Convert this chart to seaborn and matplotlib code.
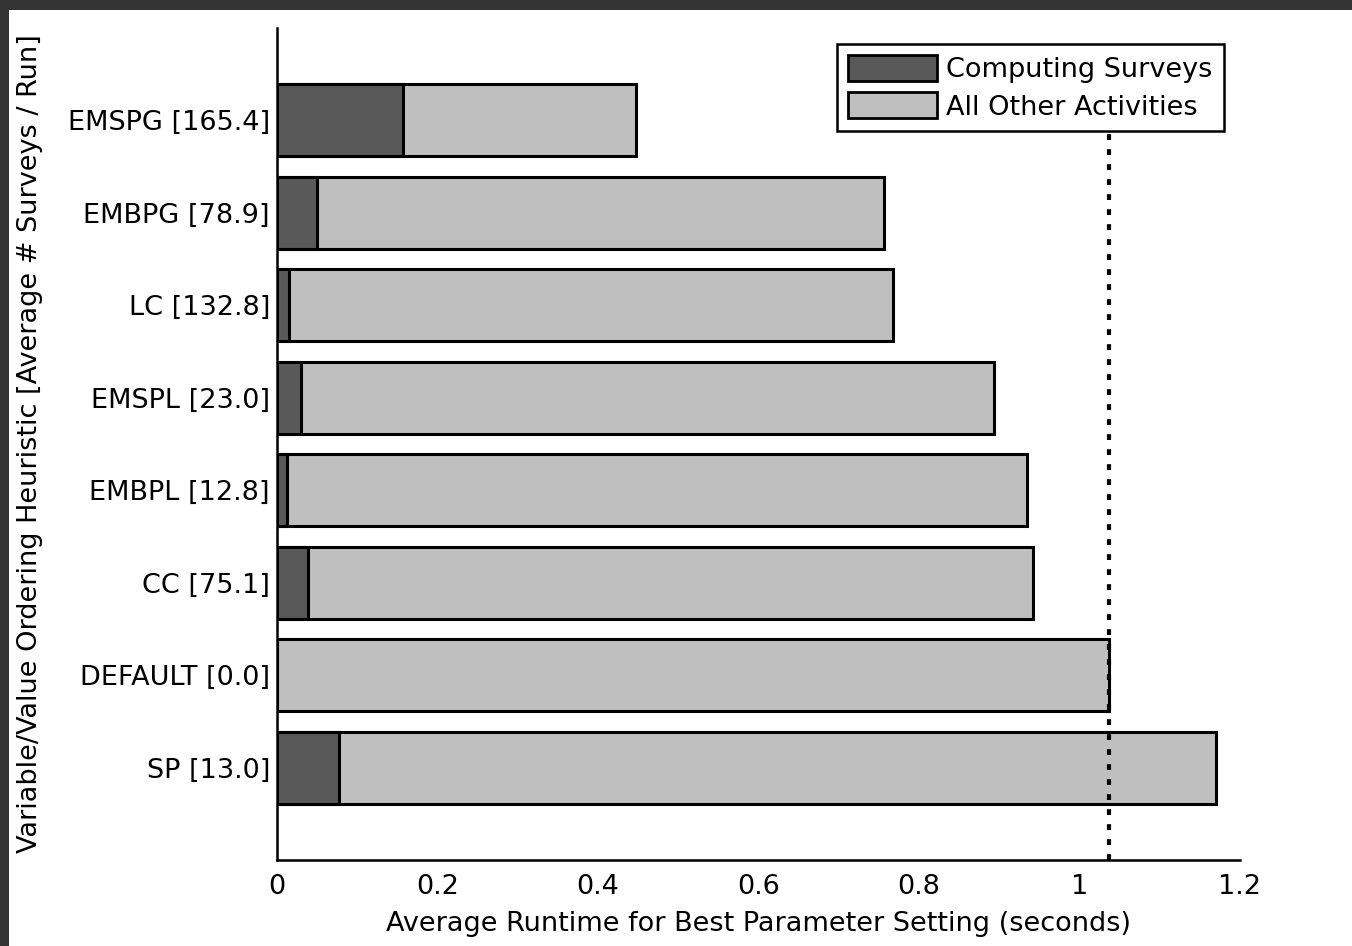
import matplotlib
matplotlib.use("Agg")
import matplotlib.pyplot as plt
import seaborn as sns
import pandas as pd
from matplotlib.patches import Patch, Rectangle

# heuristics, top to bottom
labels = ["EMSPG [165.4]", "EMBPG [78.9]", "LC [132.8]", "EMSPL [23.0]",
          "EMBPL [12.8]", "CC [75.1]", "DEFAULT [0.0]", "SP [13.0]"]
survey_time = [0.157, 0.050, 0.015, 0.030, 0.012, 0.039, 0.0, 0.077]
total_time = [0.447, 0.756, 0.768, 0.893, 0.935, 0.942, 1.037, 1.170]
default_total = 1.037

xticks = [0, 0.2, 0.4, 0.6, 0.8, 1.0, 1.2]
xtick_labels = ["0", "0.2", "0.4", "0.6", "0.8", "1", "1.2"]

dark = "#595959"
light = "#bfbfbf"

df = pd.DataFrame({"heuristic": labels, "survey": survey_time, "total": total_time})

sns.set_style("white")
plt.rcParams["font.family"] = ["DejaVu Sans"]
plt.rcParams["text.color"] = "black"
fs = 19.5

fig = plt.figure(figsize=(13.52, 9.46), dpi=100, facecolor="#333333")
# white page inside the dark frame
fig.patches.append(Rectangle((9 / 1352, 0), 1, 1 - 10 / 946, transform=fig.transFigure,
                             facecolor="white", edgecolor="none", zorder=-5))
ax = fig.add_axes([277 / 1352, 86 / 946, (1240 - 277) / 1352, (860 - 28) / 946])
ax.set_facecolor("none")

# -----------------------------
# stacked horizontal bars
# -----------------------------
sns.barplot(data=df, x="total", y="heuristic", color=light, edgecolor="black",
            linewidth=2.2, width=0.78, saturation=1, ax=ax)
sns.barplot(data=df, x="survey", y="heuristic", color=dark, edgecolor="black",
            linewidth=2.2, width=0.78, saturation=1, ax=ax)

ax.axvline(default_total, color="black", linewidth=3, linestyle=(0, (1.4, 2.2)),
           ymin=0, ymax=0.988, zorder=5)

ax.set_xlim(0, 1.2)
ax.set_ylim(8, -1)
ax.set_xticks(xticks)
ax.set_xticklabels(xtick_labels)
ax.tick_params(axis="x", direction="in", length=9, width=1.5, pad=10,
               labelsize=fs, colors="black")
ax.tick_params(axis="y", length=0, pad=5, labelsize=fs, colors="black")

for side in ["top", "right"]:
    ax.spines[side].set_visible(False)
for side in ["left", "bottom"]:
    ax.spines[side].set_linewidth(1.8)
    ax.spines[side].set_color("black")

ax.set_xlabel("Average Runtime for Best Parameter Setting (seconds)", fontsize=fs,
              labelpad=8, color="black")
ax.set_ylabel("Variable/Value Ordering Heuristic [Average # Surveys / Run]",
              fontsize=fs, color="black")
ax.yaxis.set_label_coords(-0.243, 0.5)

handles = [Patch(facecolor=dark, edgecolor="black", linewidth=2, label="Computing Surveys"),
           Patch(facecolor=light, edgecolor="black", linewidth=2, label="All Other Activities")]
leg = ax.legend(handles=handles, loc="upper right", bbox_to_anchor=(0.983, 0.981),
                fontsize=fs, frameon=True, fancybox=False, framealpha=1,
                edgecolor="black", handlelength=3.3, handleheight=1.1,
                handletextpad=0.35, borderpad=0.4, labelspacing=0.35, borderaxespad=0,
                labelcolor="black")
leg.get_frame().set_linewidth(1.8)
leg.set_zorder(10)

fig.savefig("out.png", dpi=100, facecolor=fig.get_facecolor())
